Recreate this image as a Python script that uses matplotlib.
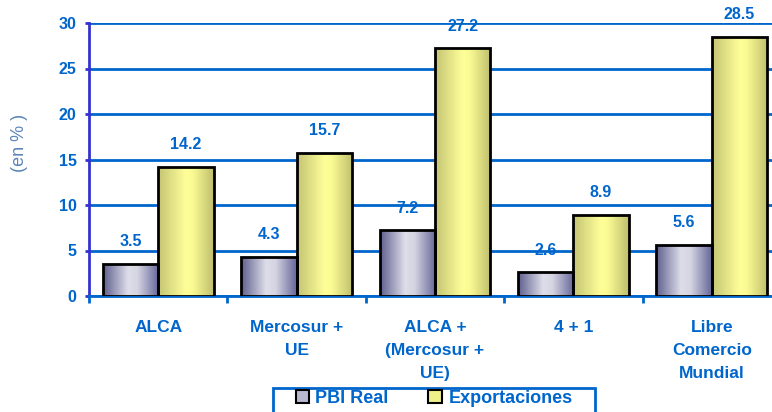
import numpy as np
import matplotlib
matplotlib.use("Agg")
import matplotlib.pyplot as plt
from matplotlib.colors import LinearSegmentedColormap
from matplotlib.patches import Rectangle

plt.rcParams['font.family'] = ['Liberation Sans', 'DejaVu Sans']

categorias = ['ALCA', 'Mercosur +\nUE', 'ALCA +\n(Mercosur +\nUE)', '4 + 1',
              'Libre\nComercio\nMundial']
pbi_real = [3.5, 4.3, 7.2, 2.6, 5.6]
exportaciones = [14.2, 15.7, 27.2, 8.9, 28.5]
y_ticks = [0, 5, 10, 15, 20, 25, 30]

azul = '#0066CC'
cmap_pbi = LinearSegmentedColormap.from_list(
    'pbi', [(0, '#5e5e8e'), (0.45, '#dedeea'), (0.62, '#d4d4e2'), (1, '#66669a')])
cmap_exp = LinearSegmentedColormap.from_list(
    'exp', [(0, '#c4c474'), (0.5, '#ffff99'), (0.62, '#fbfb94'), (1, '#bebe6e')])

fig = plt.figure(figsize=(7.72, 4.12), dpi=100)
ax = fig.add_axes([89 / 772, 1 - 296 / 412, 692 / 772, 273 / 412])

x = np.arange(len(categorias))
w = 0.4
grad = np.linspace(0, 1, 256).reshape(1, -1)


def gradient_bars(xs, vals, cmap):
    for xi, v in zip(xs, vals):
        x0, x1 = xi - w / 2, xi + w / 2
        rect = Rectangle((x0, 0), w, v, facecolor='none', edgecolor='black',
                         linewidth=2, zorder=4)
        ax.add_patch(rect)
        im = ax.imshow(grad, cmap=cmap, extent=(x0, x1, 0, v), aspect='auto',
                       zorder=3, interpolation='bilinear')
        im.set_clip_path(rect)


gradient_bars(x - w / 2, pbi_real, cmap_pbi)
gradient_bars(x + w / 2, exportaciones, cmap_exp)

for xi, v in zip(x - w / 2, pbi_real):
    ax.annotate(f'{v}', (xi, v), xytext=(0, 16), textcoords='offset points',
                ha='center', va='center', color=azul, fontsize=11.5, fontweight='bold')
for xi, v in zip(x + w / 2, exportaciones):
    ax.annotate(f'{v}', (xi, v), xytext=(0, 16), textcoords='offset points',
                ha='center', va='center', color=azul, fontsize=11.5, fontweight='bold')

ax.set_xlim(-0.5, len(categorias) - 0.5)
ax.set_ylim(0, 30)
ax.set_yticks(y_ticks)
ax.set_yticklabels([str(t) for t in y_ticks], color=azul, fontsize=11.5, fontweight='bold')
ax.yaxis.grid(True, color=azul, linewidth=2)
ax.set_axisbelow(True)

ax.set_xticks(np.arange(len(categorias) + 1) - 0.5)
ax.set_xticklabels([])
ax.set_xticks(x, minor=True)
ax.set_xticklabels(categorias, minor=True, color=azul, fontsize=12.5,
                   fontweight='bold', linespacing=1.7)
ax.tick_params(axis='x', which='major', direction='out', length=5, width=2, color=azul)
ax.tick_params(axis='x', which='minor', length=0, pad=17)
ax.tick_params(axis='y', direction='out', length=3, width=2, color='#3333CC', pad=6)

for s in ['top', 'right']:
    ax.spines[s].set_visible(False)
ax.spines['left'].set_color('#3333CC')
ax.spines['left'].set_linewidth(2)
ax.spines['bottom'].set_color(azul)
ax.spines['bottom'].set_linewidth(2)

fig.text(20 / 772, 1 - 143 / 412, '(en % )', rotation=90, ha='center', va='center',
         color='#5b86b8', fontsize=13)

# legend: frame drawn separately, bottom runs off the figure
fig.patches.append(Rectangle((273 / 772, -0.05), 322 / 772, 0.05 + 24 / 412,
                             transform=fig.transFigure, facecolor='white',
                             edgecolor=azul, linewidth=2, zorder=5))
h1 = Rectangle((0, 0), 1, 1, facecolor='#b8b8d0', edgecolor='black', linewidth=1.5)
h2 = Rectangle((0, 0), 1, 1, facecolor='#f0f08a', edgecolor='black', linewidth=1.5)
leg = fig.legend([h1, h2], ['PBI Real', 'Exportaciones'], loc='upper center',
                 bbox_to_anchor=(434 / 772, 1 - 390 / 412), ncol=2, frameon=False,
                 handlelength=0.75, handleheight=0.75, handletextpad=0.35,
                 columnspacing=2.2, borderpad=0.0, borderaxespad=0.0,
                 prop={'weight': 'bold', 'size': 13})
leg.set_zorder(6)
for t in leg.get_texts():
    t.set_color(azul)

fig.savefig('out.png', dpi=100)
